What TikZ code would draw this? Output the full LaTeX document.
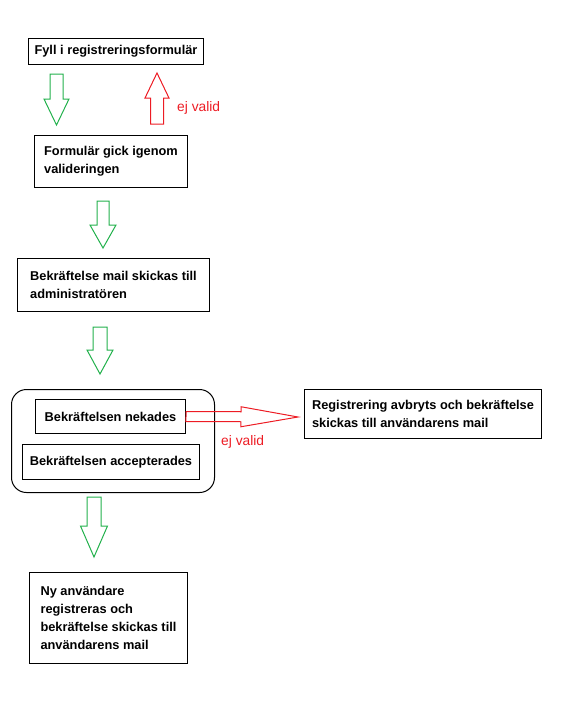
\documentclass[tikz,border=0pt]{standalone}
\usepackage{fontspec}
\setmainfont{Liberation Sans}
\usetikzlibrary{calc}
\definecolor{okgreen}{RGB}{34,177,76}
\definecolor{failred}{RGB}{237,28,36}
\tikzstyle{box} = [draw, line width=1pt, anchor=north west, align=left,
    font=\fontsize{12.8}{18}\selectfont\bfseries]
\tikzstyle{group} = [draw, line width=1pt, anchor=north west, rounded corners=15pt]
\tikzstyle{note} = [anchor=west, inner sep=0pt, text=failred,
    font=\fontsize{13.8}{15}\selectfont]
\tikzstyle{okarrow} = [draw=okgreen, line width=1pt]
\tikzstyle{failarrow} = [draw=failred, line width=1pt]

% block arrow: style, tail, tip, half shaft, half head, head length
\newcommand{\bigarrow}[6]{%
  \coordinate (hb) at ($(#3)!#6!(#2)$);
  \draw [#1] ($(#2)!#4!90:(#3)$) -- ($(hb)!#4!90:(#3)$) -- ($(hb)!#5!90:(#3)$)
    -- (#3) -- ($(hb)!#5!-90:(#3)$) -- ($(hb)!#4!-90:(#3)$) -- ($(#2)!#4!-90:(#3)$) -- cycle;}

\begin{document}
\begin{tikzpicture}[x=1pt, y=-1pt]
  \useasboundingbox (0,0) rectangle (569,721);

  \node [box, minimum width=175, minimum height=26] (fyll) at (28,38) {Fyll i registreringsformulär};
  \node [box, minimum width=153, minimum height=52] (gick) at (34,135) {Formulär gick igenom\\valideringen};
  \node [box, minimum width=192, minimum height=53] (admin) at (17,258) {Bekräftelse mail skickas till\\administratören};
  \node [group, minimum width=203, minimum height=103] (svar) at (11,389) {};
  \node [box, minimum width=150, minimum height=34] (nekad) at (35,399) {Bekräftelsen nekades};
  \node [box, minimum width=177, minimum height=35] (accept) at (22,444) {Bekräftelsen accepterades};
  \node [box, minimum width=237, minimum height=49] (avbryt) at (304,389) {Registrering avbryts och bekräftelse\\skickas till användarens mail};
  \node [box, minimum width=158, minimum height=91] (ny) at (29,572) {Ny användare\\registreras och\\bekräftelse skickas till\\användarens mail};

  \node [note] (ejvalid1) at (177,108) {ej valid};
  \node [note] (ejvalid2) at (221,442) {ej valid};

  % arrow ends
  \coordinate (fyllut) at (56.5,74);  \coordinate (gickin) at (56.5,125);
  \coordinate (gickut) at (157,124);  \coordinate (fyllin) at (157,73);
  \coordinate (adminin0) at (103,201); \coordinate (adminin) at (103,248);
  \coordinate (svarin0) at (100,327); \coordinate (svarin) at (100,374);
  \coordinate (nyin0) at (94,497);    \coordinate (nyin) at (94,557);
  \coordinate (avbrytin) at (298,417);

  \bigarrow{okarrow}{fyllut}{gickin}{6.5pt}{12.5pt}{26pt}
  \bigarrow{failarrow}{gickut}{fyllin}{6.5pt}{12pt}{25pt}
  \bigarrow{okarrow}{adminin0}{adminin}{6pt}{13pt}{23pt}
  \bigarrow{okarrow}{svarin0}{svarin}{7pt}{13pt}{24pt}
  \bigarrow{okarrow}{nyin0}{nyin}{7pt}{13.5pt}{31pt}
  \bigarrow{failarrow}{nekad.east}{avbrytin}{5pt}{10pt}{57pt}

\end{tikzpicture}
\end{document}
